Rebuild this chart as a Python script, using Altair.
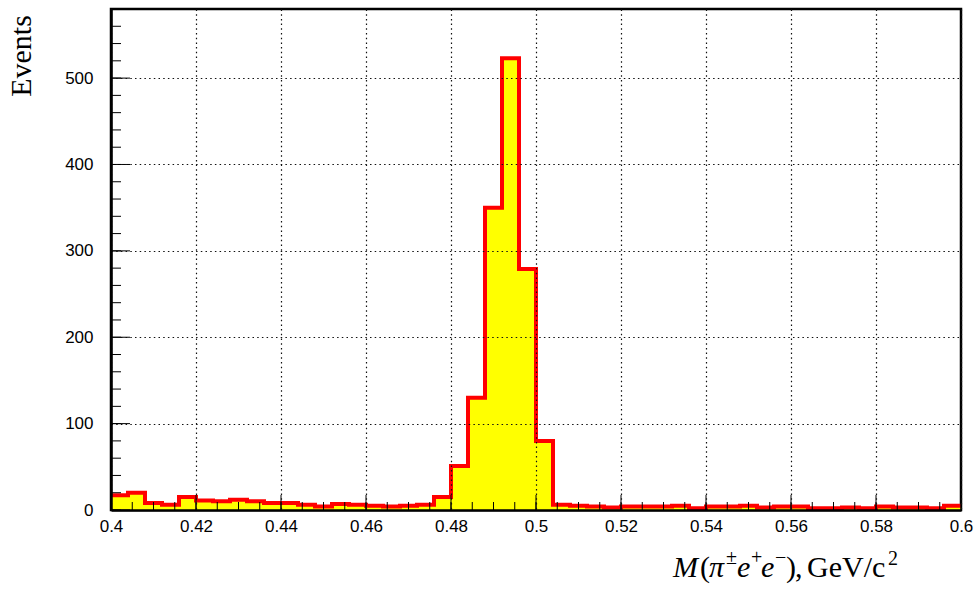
import altair as alt
import pandas as pd

# ---- data -----------------------------------------------------------------
bin_start = 0.4
bin_width = 0.004
counts = [17, 20, 8, 6, 15, 11, 10, 12, 10, 8,
          8, 6, 4, 7, 6, 5, 4, 5, 6, 15,
          51, 130, 350, 523, 279, 80, 6, 5, 4, 3,
          4, 4, 4, 5, 2, 4, 4, 5, 3, 4,
          4, 2, 2, 3, 2, 4, 3, 3, 2, 5]
x_major = [0.4, 0.42, 0.44, 0.46, 0.48, 0.5, 0.52, 0.54, 0.56, 0.58, 0.6]
x_minor = [round(0.4 + 0.005 * i, 3) for i in range(41)]
y_major = [0, 100, 200, 300, 400, 500]
y_minor = [20 * i for i in range(30)]

edges = [round(bin_start + bin_width * i, 3) for i in range(len(counts))]
hist = pd.DataFrame({"x": edges + [0.6], "y": counts + [counts[-1]]})

W, H = 850, 501
xscale = alt.Scale(domain=[0.4, 0.6], nice=False, zero=False)
yscale = alt.Scale(domain=[0, 580], nice=False)

sans = "Liberation Sans"
serif = "Liberation Serif"
grid_dash = [1.5, 3.2]

x_axis = alt.Axis(
    values=x_major, format="~g", title=None, ticks=False, grid=True,
    gridDash=grid_dash, gridColor="#111111", gridWidth=1.2, gridOpacity=1,
    labelFont=sans, labelFontSize=17, labelColor="black", labelPadding=8,
    labelFlush=False, labelOverlap=False, domainColor="black", domainWidth=2.5,
    zindex=1)
y_axis = alt.Axis(
    values=y_major, format="d", title=None, ticks=False, grid=True,
    gridDash=grid_dash, gridColor="#111111", gridWidth=1.2, gridOpacity=1,
    labelFont=sans, labelFontSize=17, labelColor="black", labelPadding=18,
    labelOverlap=False, domainColor="black", domainWidth=2.5, zindex=1)

area = alt.Chart(hist).mark_area(interpolate="step-after", color="#ffff00", opacity=1).encode(
    x=alt.X("x:Q", scale=xscale, axis=x_axis),
    y=alt.Y("y:Q", scale=yscale, axis=y_axis),
)

line = alt.Chart(hist).mark_line(interpolate="step-after", color="#ff0000",
                                 strokeWidth=4, strokeJoin="miter").encode(
    x=alt.X("x:Q", scale=xscale, axis=x_axis),
    y=alt.Y("y:Q", scale=yscale, axis=y_axis),
)

ymaj = alt.Chart(pd.DataFrame({"v": y_major})).mark_rule(color="black", strokeWidth=1).encode(
    y=alt.Y("v:Q", scale=yscale, axis=y_axis), x=alt.value(0), x2=alt.value(19))
ymin = alt.Chart(pd.DataFrame({"v": y_minor})).mark_rule(color="black", strokeWidth=1).encode(
    y=alt.Y("v:Q", scale=yscale, axis=y_axis), x=alt.value(0), x2=alt.value(10))
xmaj = alt.Chart(pd.DataFrame({"v": x_major})).mark_rule(color="black", strokeWidth=1).encode(
    x=alt.X("v:Q", scale=xscale, axis=x_axis), y=alt.value(H), y2=alt.value(H - 15))
xmin = alt.Chart(pd.DataFrame({"v": x_minor})).mark_rule(color="black", strokeWidth=1).encode(
    x=alt.X("v:Q", scale=xscale, axis=x_axis), y=alt.value(H), y2=alt.value(H - 8))

one = pd.DataFrame({"a": [0]})


def txt(s, x, y, size=30, style="normal", angle=0, align="left", baseline="alphabetic"):
    return alt.Chart(one).mark_text(
        text=s, font=serif, fontSize=size, fontStyle=style, color="black",
        align=align, baseline=baseline, angle=angle).encode(
        x=alt.value(x), y=alt.value(y))


ox, oy = 111, 9  # plot origin in the page
base = 577
sup = 564
pieces = [
    txt("M", 673 - ox, base - oy, style="italic"),
    txt("(", 700 - ox, base - oy),
    txt("π", 709 - ox, base - oy, style="italic"),
    txt("±", 726 - ox, sup - oy, size=20),
    txt("e", 737 - ox, base - oy, style="italic"),
    txt("+", 751 - ox, sup - oy, size=20),
    txt("e", 761 - ox, base - oy, style="italic"),
    txt("−", 775 - ox, sup - oy, size=20),
    txt(")", 786 - ox, base - oy),
    txt(",", 795 - ox, base - oy),
    txt("GeV/c", 807 - ox, base - oy),
    txt("2", 888 - ox, 565 - oy, size=20),
    txt("Events", 22 - ox, 56 - oy, angle=270, align="center", baseline="middle"),
]

chart = alt.layer(area, line, ymin, ymaj, xmin, xmaj, *pieces).properties(
    width=W, height=H,
    background="white",
    autosize=alt.AutoSizeParams(type="none"),
    padding={"left": ox, "top": oy, "right": 979 - ox - W, "bottom": 590 - oy - H},
).configure_view(stroke="black", strokeWidth=2.5)

chart.save("out.html", embed_options={"renderer": "svg", "actions": False})
